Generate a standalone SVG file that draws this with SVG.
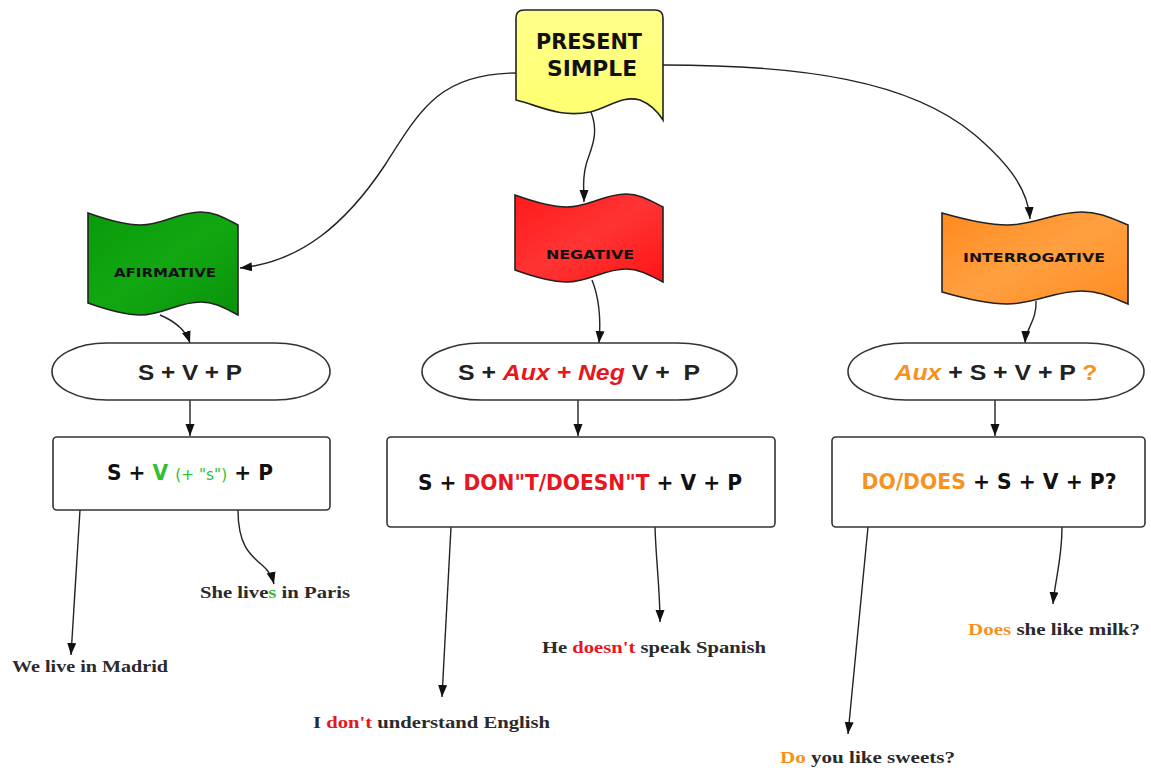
<svg xmlns="http://www.w3.org/2000/svg" width="1151" height="771" viewBox="0 0 1151 771">
<style>
.shape{stroke:#222;stroke-width:1.6;}
.box{fill:#fff;stroke:#333;stroke-width:1.6;}
.conn{fill:none;stroke:#222;stroke-width:1.4;}
.comic{font-family:"DejaVu Sans",sans-serif;font-weight:bold;fill:#111;}
.sans{font-family:"Liberation Sans",Arial,sans-serif;font-weight:bold;fill:#222;}
.ser{font-family:"Liberation Serif","DejaVu Serif",serif;font-weight:bold;fill:#2a2a2a;font-size:17px;}
.red{fill:#e8161e;}
.org{fill:#f7921e;}
.grn{fill:#2fbf2f;}
</style>
<defs>
<marker id="arr" markerUnits="userSpaceOnUse" markerWidth="13" markerHeight="10" refX="12" refY="4.5" orient="auto">
<path d="M0,0 L12,4.5 L0,9 Z" fill="#111"/>
</marker>
<linearGradient id="gY" x1="0" y1="0" x2="0" y2="1"><stop offset="0" stop-color="#ffff8a"/><stop offset="1" stop-color="#ffff70"/></linearGradient>
<linearGradient id="gG" x1="0" y1="0" x2="1" y2="1"><stop offset="0" stop-color="#0a9a0a"/><stop offset="0.5" stop-color="#12a812"/><stop offset="1" stop-color="#0a920a"/></linearGradient>
<linearGradient id="gR" x1="0" y1="0" x2="1" y2="1"><stop offset="0" stop-color="#ff1a1a"/><stop offset="0.5" stop-color="#ff3434"/><stop offset="1" stop-color="#ff1414"/></linearGradient>
<linearGradient id="gO" x1="0" y1="0" x2="1" y2="1"><stop offset="0" stop-color="#ff8a1e"/><stop offset="0.5" stop-color="#ffa040"/><stop offset="1" stop-color="#ff8c22"/></linearGradient>
</defs>

<g id="connectors">
<path class="conn" marker-end="url(#arr)" d="M516,73 C440,73 420,110 385,165 C345,225 300,262 240,268"/>
<path class="conn" marker-end="url(#arr)" d="M663,65 C800,65 910,80 975,135 C1010,165 1028,190 1030,219"/>
<path class="conn" marker-end="url(#arr)" d="M591,112 C600,135 590,150 586,165 C582,180 584,190 584,202"/>
<path class="conn" marker-end="url(#arr)" d="M160,315 C172,320 185,328 190,343"/>
<path class="conn" marker-end="url(#arr)" d="M592,280 C600,300 601,320 599,343"/>
<path class="conn" marker-end="url(#arr)" d="M1036,301 C1037,320 1026,328 1025,343"/>
<path class="conn" marker-end="url(#arr)" d="M190,400 L190,436"/>
<path class="conn" marker-end="url(#arr)" d="M578,400 L578,436"/>
<path class="conn" marker-end="url(#arr)" d="M995,400 L995,436"/>
<path class="conn" marker-end="url(#arr)" d="M80,510 L71,655"/>
<path class="conn" marker-end="url(#arr)" d="M238,510 C238,545 250,555 262,565 C268,570 272,576 274,584"/>
<path class="conn" marker-end="url(#arr)" d="M451,527 L442,697"/>
<path class="conn" marker-end="url(#arr)" d="M655,527 C656,560 660,590 660,622"/>
<path class="conn" marker-end="url(#arr)" d="M868,527 L848,734"/>
<path class="conn" marker-end="url(#arr)" d="M1062,527 C1062,560 1055,580 1053,604"/>
</g>

<g id="present-simple">
<path class="shape" fill="url(#gY)" d="M516,100 C540,106 560,118 590,112 C610,107 622,95 640,100 C650,104 658,112 663,120 L663,18 Q663,10 655,10 L524,10 Q516,10 516,18 Z"/>
<text class="comic" font-size="22" x="589" y="49" text-anchor="middle" textLength="106" lengthAdjust="spacingAndGlyphs">PRESENT</text>
<text class="comic" font-size="22" x="592" y="76" text-anchor="middle" textLength="90" lengthAdjust="spacingAndGlyphs">SIMPLE</text>
</g>

<g id="afirmative">
<path class="shape" fill="url(#gG)" d="M88,213 C110.5,221 125.5,225 140.5,225 C163,225 178,212 200.5,212 C215.5,212 226,219 238,225 L238,315 C226,309 215.5,302 200.5,302 C178,302 163,315 140.5,315 C125.5,315 110.5,311 88,303 Z"/>
<text class="comic" font-size="13" x="165" y="277" text-anchor="middle" textLength="102" lengthAdjust="spacingAndGlyphs">AFIRMATIVE</text>
</g>

<g id="negative">
<path class="shape" fill="url(#gR)" d="M515,195 C537.2,203 552,207 566.8,207 C589,207 603.8,194 626,194 C640.8,194 651.2,201 663,207 L663,282 C651.2,276 640.8,269 626,269 C603.8,269 589,282 566.8,282 C552,282 537.2,278 515,270 Z"/>
<text class="comic" font-size="13" x="590" y="259" text-anchor="middle" textLength="88" lengthAdjust="spacingAndGlyphs">NEGATIVE</text>
</g>

<g id="interrogative">
<path class="shape" fill="url(#gO)" d="M942,213 C969.9,221 988.5,225 1007.1,225 C1035,225 1053.6,212 1081.5,212 C1100.1,212 1113.1,219 1128,225 L1128,304 C1113.1,298 1100.1,291 1081.5,291 C1053.6,291 1035,304 1007.1,304 C988.5,304 969.9,300 942,292 Z"/>
<text class="comic" font-size="13" x="1034" y="262" text-anchor="middle" textLength="142" lengthAdjust="spacingAndGlyphs">INTERROGATIVE</text>
</g>

<g id="af-structure">
<rect class="box" x="52" y="343" width="278" height="57" rx="55" ry="28.5"/>
<text class="sans" font-size="22" x="190" y="380" text-anchor="middle" textLength="104" lengthAdjust="spacingAndGlyphs">S + V + P</text>
</g>

<g id="neg-structure">
<rect class="box" x="422" y="343" width="315" height="57" rx="60" ry="28.5"/>
<text class="sans" font-size="22" x="579" y="380" text-anchor="middle" textLength="242" lengthAdjust="spacingAndGlyphs" xml:space="preserve">S + <tspan class="red" font-style="italic">Aux + Neg</tspan> V +  P</text>
</g>

<g id="int-structure">
<rect class="box" x="848" y="343" width="296" height="57" rx="58" ry="28.5"/>
<text class="sans" font-size="22" x="996" y="380" text-anchor="middle" textLength="203" lengthAdjust="spacingAndGlyphs"><tspan class="org" font-style="italic">Aux</tspan> + S + V + P <tspan class="org">?</tspan></text>
</g>

<g id="af-formula">
<rect class="box" x="53" y="437" width="277" height="73" rx="4"/>
<text class="comic" font-size="21" x="190" y="480" text-anchor="middle" textLength="166" lengthAdjust="spacingAndGlyphs">S + <tspan class="grn">V</tspan> <tspan class="grn" font-size="16" font-weight="normal">(+ "s")</tspan> + P</text>
</g>

<g id="neg-formula">
<rect class="box" x="387" y="437" width="388" height="90" rx="4"/>
<text class="comic" font-size="21" x="580" y="490" text-anchor="middle" textLength="324" lengthAdjust="spacingAndGlyphs">S + <tspan class="red">DON"T/DOESN"T</tspan> + V + P</text>
</g>

<g id="int-formula">
<rect class="box" x="832" y="437" width="313" height="90" rx="4"/>
<text class="comic" font-size="21" x="989" y="489" text-anchor="middle" textLength="255" lengthAdjust="spacingAndGlyphs"><tspan class="org">DO/DOES</tspan> + S + V + P?</text>
</g>

<g id="ex-madrid">
<text class="ser" x="12" y="672" textLength="156" lengthAdjust="spacingAndGlyphs">We live in Madrid</text>
</g>
<g id="ex-paris">
<text class="ser" x="200" y="598" textLength="150" lengthAdjust="spacingAndGlyphs">She live<tspan class="grn">s</tspan> in Paris</text>
</g>
<g id="ex-english">
<text class="ser" x="313" y="728" textLength="237" lengthAdjust="spacingAndGlyphs">I <tspan class="red">don't</tspan> understand English</text>
</g>
<g id="ex-spanish">
<text class="ser" x="542" y="653" textLength="224" lengthAdjust="spacingAndGlyphs">He <tspan class="red">doesn't</tspan> speak Spanish</text>
</g>
<g id="ex-sweets">
<text class="ser" x="780" y="763" textLength="175" lengthAdjust="spacingAndGlyphs"><tspan class="org">Do</tspan> you like sweets?</text>
</g>
<g id="ex-milk">
<text class="ser" x="968" y="635" textLength="172" lengthAdjust="spacingAndGlyphs"><tspan class="org">Does</tspan> she like milk?</text>
</g>
</svg>
